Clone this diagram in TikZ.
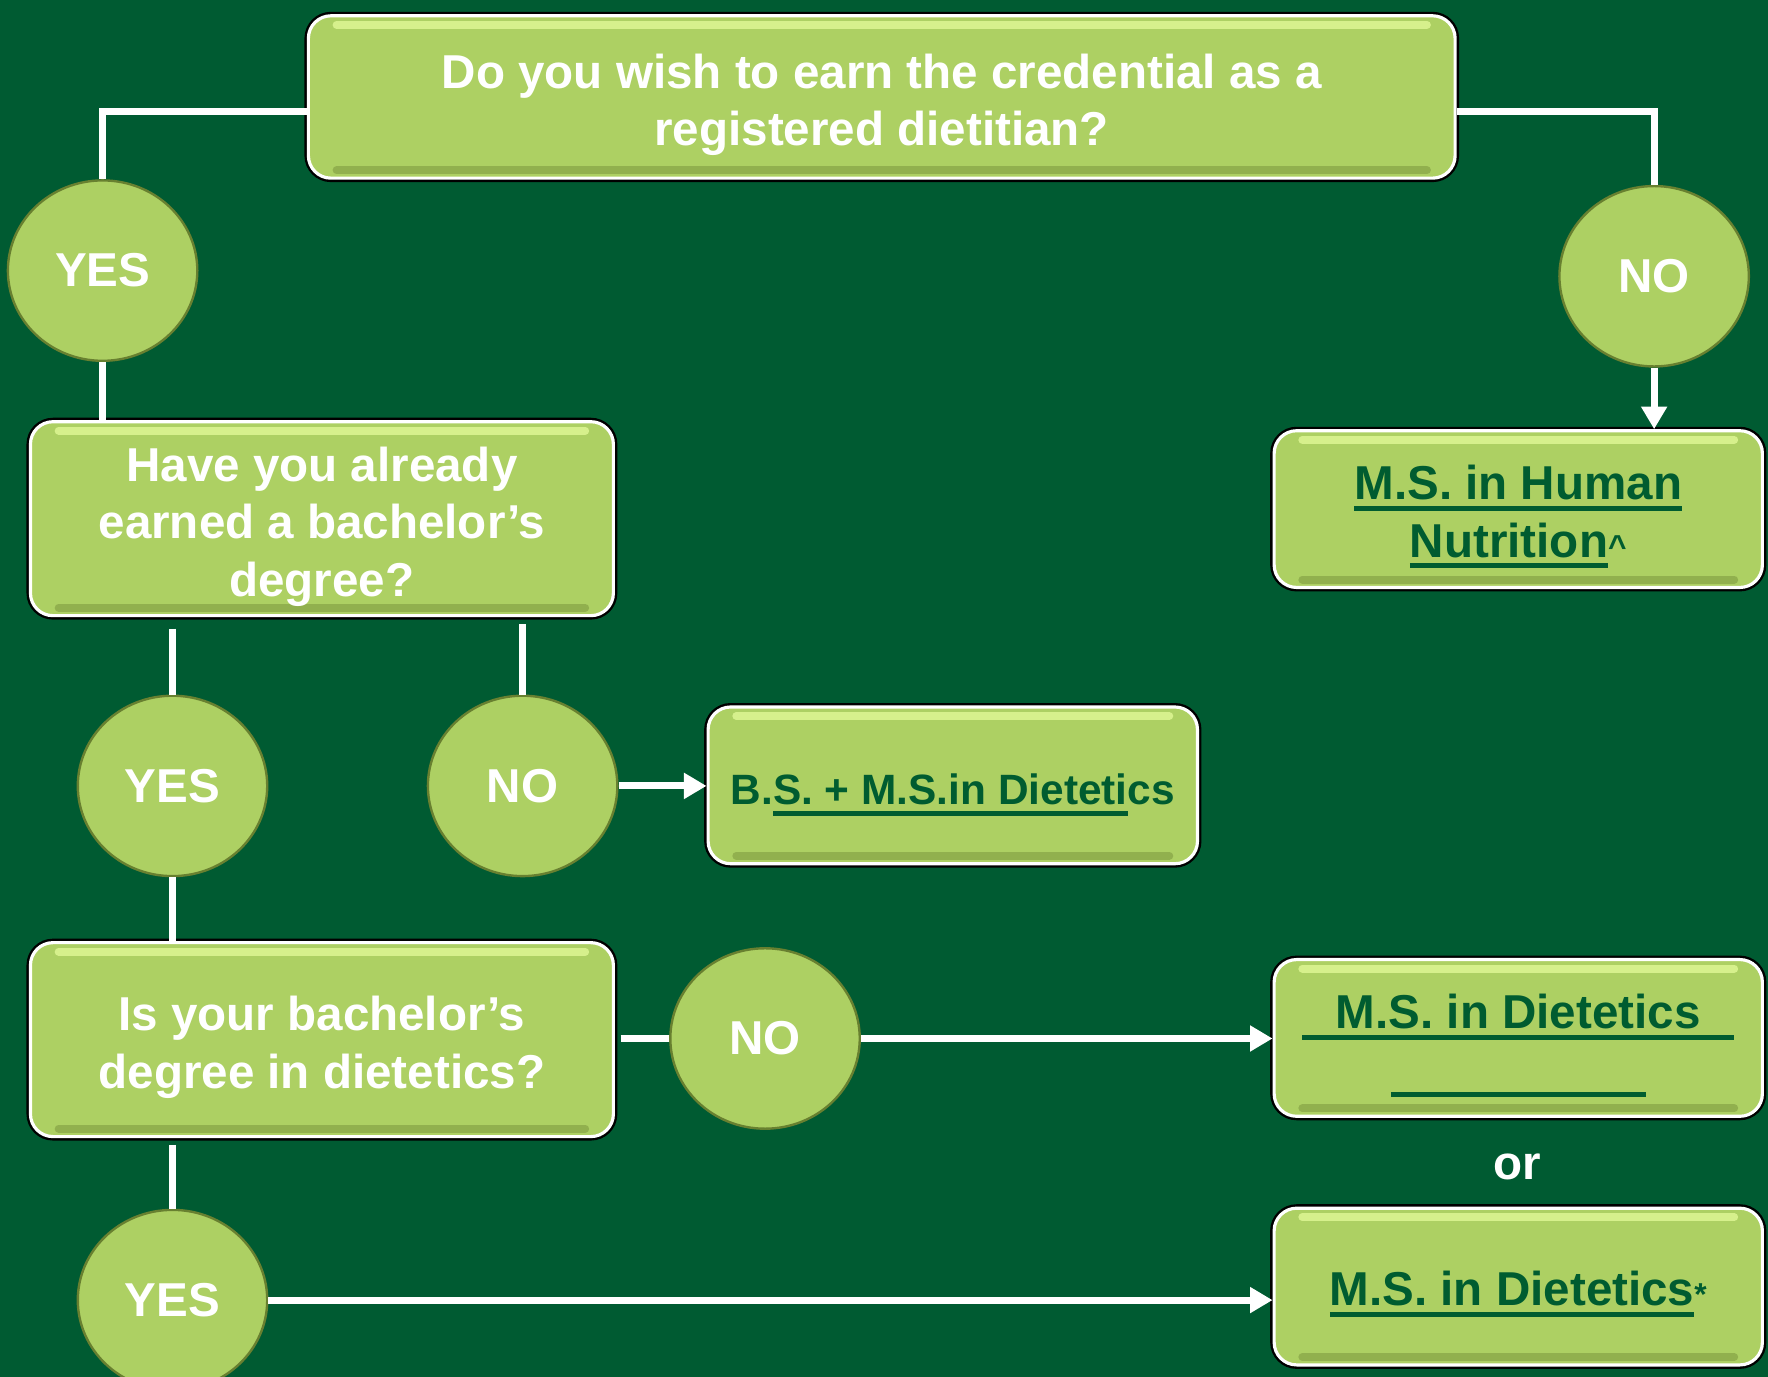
\documentclass[tikz,border=0pt]{standalone}
\usepackage{fontspec}
\setmainfont{Liberation Sans}
\usetikzlibrary{shapes.geometric,arrows.meta}
\definecolor{rd-bg}{RGB}{0,91,50}
\definecolor{rd-box}{RGB}{173,208,99}
\definecolor{rd-lite}{RGB}{214,240,140}
\definecolor{rd-rim}{RGB}{104,128,48}
\definecolor{rd-ink}{RGB}{0,92,48}
\newcommand{\uln}[1]{\setbox0\hbox{#1}\rlap{\rule[-2.8pt]{\wd0}{1.3pt}}\box0}
\newcommand{\tstrut}{\rule{0pt}{12.6pt}}

\begin{document}
\begin{tikzpicture}[
  bevel/.style={path picture={
    \draw[rd-lite, line width=2pt, line cap=round]
      ([shift={(0.25,-0.08)}]path picture bounding box.north west) --
      ([shift={(-0.25,-0.08)}]path picture bounding box.north east);
    \draw[rd-rim, line width=2pt, opacity=.4, line cap=round]
      ([shift={(0.25,0.07)}]path picture bounding box.south west) --
      ([shift={(-0.25,0.07)}]path picture bounding box.south east);
  }},
  qbox/.style={rectangle, rounded corners=0.2cm, fill=rd-box, bevel,
    draw=white, line width=0.8pt, preaction={draw=black, line width=2pt},
    inner sep=0pt, align=center, text=white,
    execute at begin node=\tstrut,
    font=\bfseries\fontsize{12}{14.5}\selectfont},
  abox/.style={qbox, text=rd-ink, minimum width=4.33cm, minimum height=1.39cm},
  ans/.style={ellipse, fill=rd-box, draw=rd-rim, line width=0.6pt,
    minimum width=1.68cm, minimum height=1.6cm, inner sep=0pt, text=white,
    font=\bfseries\fontsize{12}{14.5}\selectfont},
  link/.style={draw=white, line width=1.8pt},
  arr/.style={link, -{Triangle[width=2.2mm,length=2mm]}}
]
\useasboundingbox (0,0) rectangle (15.68,-12.21);
\fill[rd-bg] (0,0) rectangle (15.68,-12.21);

% questions and answers
\node[qbox, minimum width=10.17cm, minimum height=1.44cm] (q1) at (7.82,-0.86)
  {\tstrut Do you wish to earn the credential as a\\registered dietitian?};
\node[ans] (yes1) at (0.91,-2.40) {YES};
\node[ans] (no1) at (14.67,-2.45) {NO};
\node[qbox, minimum width=5.17cm, minimum height=1.72cm] (q2) at (2.855,-4.60)
  {\tstrut Have you already\\earned a bachelor’s\\degree?};
\node[abox] (hn) at (13.465,-4.515)
  {\tstrut\uln{M.S. in Human}\\\uln{Nutrition}{\footnotesize\textasciicircum}};
\node[ans] (yes2) at (1.53,-6.97) {YES};
\node[ans] (no2) at (4.635,-6.97) {NO};
\node[abox, minimum width=4.34cm, font=\bfseries\fontsize{10.7}{13}\selectfont] (bs) at (8.45,-6.965)
  {B.\uln{S. + M.S.in Dieteti}cs};
\node[qbox, minimum width=5.17cm, minimum height=1.72cm] (q3) at (2.855,-9.22)
  {\tstrut Is your bachelor’s\\degree in dietetics?};
\node[ans] (no3) at (6.785,-9.21) {NO};
\node[abox] (ms1) at (13.465,-9.205)
  {\tstrut\uln{\hspace{3mm}M.S. in Dietetics\hspace{3mm}}\\\uln{\hspace{2.26cm}}};
\node[text=white, font=\bfseries\fontsize{12}{14.5}\selectfont] (or) at (13.46,-10.35) {or};
\node[abox] (ms2) at (13.465,-11.41) {\uln{M.S. in Dietetics}{\footnotesize*}};
\node[ans] (yes3) at (1.53,-11.53) {YES};

% connectors
\draw[link] ([yshift=-1.3mm]q1.west) -| (yes1.north);
\draw[link] ([yshift=-1.3mm]q1.east) -| (no1.north);
\draw[link] (yes1.south) -- (yes1.south |- q2.north);
\draw[arr] (no1.south) -- (no1.south |- hn.north);
\draw[link, shorten <=1mm] (q2.south -| yes2.north) -- (yes2.north);
\draw[link, shorten <=0.6mm] (q2.south -| no2.north) -- (no2.north);
\draw[arr] (no2.east) -- (no2.east -| bs.west);
\draw[link] (yes2.south) -- (yes2.south |- q3.north);
\draw[link, shorten <=0.5mm] (q3.east |- no3.west) -- (no3.west);
\draw[arr] (no3.east) -- (no3.east -| ms1.west);
\draw[link, shorten <=0.6mm] (q3.south -| yes3.north) -- (yes3.north);
\draw[arr] (yes3.east) -- (yes3.east -| ms2.west);
\end{tikzpicture}
\end{document}
